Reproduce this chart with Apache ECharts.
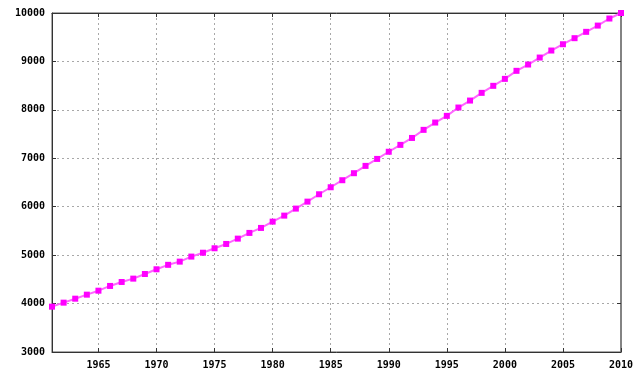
<!DOCTYPE html>
<html>
<head>
<meta charset="utf-8">
<script src="https://cdn.jsdelivr.net/npm/echarts@6/dist/echarts.min.js"></script>
<style>
  html, body { margin: 0; padding: 0; background: #fff; }
  #chart { width: 640px; height: 376px; }
</style>
</head>
<body>
<div id="chart"></div>
<script>
// years on the category axis
const years = []
for (let y = 1961; y <= 2010; y++) years.push(String(y))

// values
const population = [
  3936, 4019, 4101, 4184, 4266, 4364, 4446, 4515, 4611, 4708,
  4800, 4866, 4970, 5050, 5142, 5231, 5341, 5459, 5562, 5692,
  5816, 5961, 6105, 6257, 6402, 6547, 6692, 6843, 6987, 7135,
  7277, 7420, 7587, 7738, 7876, 8048, 8192, 8351, 8496, 8640,
  8806, 8936, 9080, 9225, 9355, 9480, 9611, 9740, 9886, 10000,
]

const chart = echarts.init(document.getElementById('chart'))

const labelFont = {
  fontFamily: 'DejaVu Sans Mono',
  fontWeight: 'bold',
  fontSize: 10,
  color: '#000',
}
const gridLine = {
  show: true,
  lineStyle: { color: '#a8a8a8', type: [2, 3], width: 1 },
}
const everyFive = (idx, val) => Number(val) % 5 === 0

const option = {
  animation: false,
  grid: {
    left: 52, right: 19, top: 13, bottom: 24,
    show: true, borderColor: '#555', borderWidth: 1,
  },
  xAxis: [
    {
      type: 'category',
      data: years,
      boundaryGap: false,
      axisLine: { lineStyle: { color: '#333', width: 1 } },
      axisTick: { inside: true, length: 4, interval: everyFive, lineStyle: { color: '#333' } },
      axisLabel: Object.assign({ interval: everyFive, margin: 8 }, labelFont),
      splitLine: Object.assign({ interval: everyFive }, gridLine),
    },
    {
      type: 'category',
      data: years,
      position: 'top',
      boundaryGap: false,
      axisLine: { lineStyle: { color: '#333', width: 1 } },
      axisTick: { inside: true, length: 4, interval: everyFive, lineStyle: { color: '#333' } },
      axisLabel: { show: false },
      splitLine: { show: false },
    },
  ],
  yAxis: [
    {
      type: 'value',
      min: 3000,
      max: 10000,
      interval: 1000,
      axisLine: { show: true, lineStyle: { color: '#333', width: 1 } },
      axisTick: { show: true, inside: true, length: 4, lineStyle: { color: '#333' } },
      axisLabel: Object.assign({ margin: 7, formatter: v => String(v) }, labelFont),
      splitLine: gridLine,
    },
    {
      type: 'value',
      min: 3000,
      max: 10000,
      interval: 1000,
      position: 'right',
      axisLine: { show: true, lineStyle: { color: '#777', width: 1.5 } },
      axisTick: { show: true, inside: true, length: 4, lineStyle: { color: '#333' } },
      axisLabel: { show: false },
      splitLine: { show: false },
    },
  ],
  series: [
    {
      type: 'line',
      data: population,
      symbol: 'rect',
      symbolSize: 6,
      itemStyle: { color: '#ff00ff' },
      lineStyle: { color: '#ff66ff', width: 2 },
    },
  ],
}
chart.setOption(option)
</script>
</body>
</html>
